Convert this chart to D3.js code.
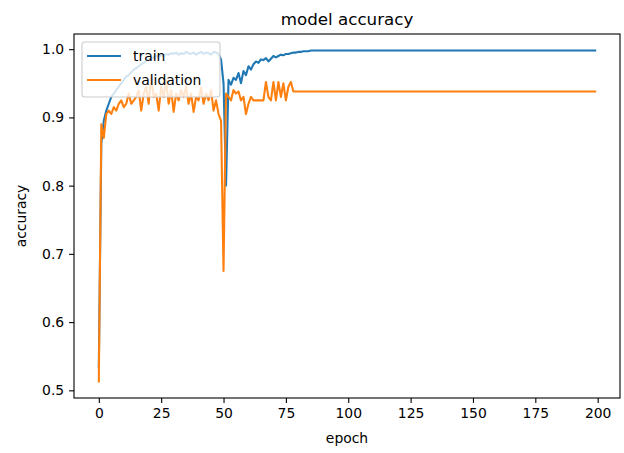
<!DOCTYPE html>
<html>
<head>
<meta charset="utf-8">
<script src="https://cdn.jsdelivr.net/npm/d3@7"></script>
<style>
  body { margin: 0; background: #fff; }
  text { font-family: "DejaVu Sans", sans-serif; fill: #000; }
</style>
</head>
<body>
<div id="chart"></div>
<script>
// Data
const trainAcc = [
  0.534, 0.862, 0.895, 0.910, 0.920, 0.930, 0.935, 0.940, 0.945, 0.950,
  0.955, 0.960, 0.962, 0.966, 0.970, 0.972, 0.975, 0.978, 0.980, 0.983,
  0.985, 0.986, 0.988, 0.990, 0.989, 0.991, 0.990, 0.993, 0.992, 0.994,
  0.993, 0.995, 0.992, 0.994, 0.993, 0.996, 0.994, 0.993, 0.995, 0.992,
  0.994, 0.996, 0.993, 0.995, 0.994, 0.992, 0.996, 0.995, 0.993, 0.985,
  0.950, 0.800, 0.955, 0.948, 0.958, 0.955, 0.965, 0.950, 0.968, 0.962,
  0.975, 0.970, 0.978, 0.982, 0.980, 0.985, 0.984, 0.987, 0.982, 0.986,
  0.990, 0.988, 0.990, 0.992, 0.991, 0.993, 0.993, 0.994, 0.995, 0.995,
  0.996, 0.996, 0.997, 0.997, 0.997, 0.998, 0.998, 0.998, 0.998, 0.998,
  0.998, 0.998, 0.998, 0.998, 0.998, 0.998, 0.998, 0.998, 0.998, 0.998,
  0.998, 0.998, 0.998, 0.998, 0.998, 0.998, 0.998, 0.998, 0.998, 0.998,
  0.998, 0.998, 0.998, 0.998, 0.998, 0.998, 0.998, 0.998, 0.998, 0.998,
  0.998, 0.998, 0.998, 0.998, 0.998, 0.998, 0.998, 0.998, 0.998, 0.998,
  0.998, 0.998, 0.998, 0.998, 0.998, 0.998, 0.998, 0.998, 0.998, 0.998,
  0.998, 0.998, 0.998, 0.998, 0.998, 0.998, 0.998, 0.998, 0.998, 0.998,
  0.998, 0.998, 0.998, 0.998, 0.998, 0.998, 0.998, 0.998, 0.998, 0.998,
  0.998, 0.998, 0.998, 0.998, 0.998, 0.998, 0.998, 0.998, 0.998, 0.998,
  0.998, 0.998, 0.998, 0.998, 0.998, 0.998, 0.998, 0.998, 0.998, 0.998,
  0.998, 0.998, 0.998, 0.998, 0.998, 0.998, 0.998, 0.998, 0.998, 0.998,
  0.998, 0.998, 0.998, 0.998, 0.998, 0.998, 0.998, 0.998, 0.998, 0.998
];

const valAcc = [
  0.513, 0.890, 0.870, 0.905, 0.910, 0.905, 0.915, 0.910, 0.920, 0.925,
  0.915, 0.920, 0.935, 0.920, 0.925, 0.930, 0.940, 0.910, 0.935, 0.945,
  0.920, 0.960, 0.930, 0.935, 0.910, 0.945, 0.930, 0.955, 0.920, 0.940,
  0.908, 0.935, 0.925, 0.940, 0.930, 0.945, 0.920, 0.935, 0.908, 0.930,
  0.925, 0.944, 0.920, 0.935, 0.925, 0.940, 0.910, 0.925, 0.905, 0.895,
  0.675, 0.935, 0.930, 0.925, 0.940, 0.935, 0.938, 0.925, 0.930, 0.905,
  0.920, 0.930, 0.925, 0.925, 0.925, 0.925, 0.925, 0.952, 0.930, 0.925,
  0.952, 0.925, 0.952, 0.930, 0.950, 0.925, 0.945, 0.952, 0.938, 0.938,
  0.938, 0.938, 0.938, 0.938, 0.938, 0.938, 0.938, 0.938, 0.938, 0.938,
  0.938, 0.938, 0.938, 0.938, 0.938, 0.938, 0.938, 0.938, 0.938, 0.938,
  0.938, 0.938, 0.938, 0.938, 0.938, 0.938, 0.938, 0.938, 0.938, 0.938,
  0.938, 0.938, 0.938, 0.938, 0.938, 0.938, 0.938, 0.938, 0.938, 0.938,
  0.938, 0.938, 0.938, 0.938, 0.938, 0.938, 0.938, 0.938, 0.938, 0.938,
  0.938, 0.938, 0.938, 0.938, 0.938, 0.938, 0.938, 0.938, 0.938, 0.938,
  0.938, 0.938, 0.938, 0.938, 0.938, 0.938, 0.938, 0.938, 0.938, 0.938,
  0.938, 0.938, 0.938, 0.938, 0.938, 0.938, 0.938, 0.938, 0.938, 0.938,
  0.938, 0.938, 0.938, 0.938, 0.938, 0.938, 0.938, 0.938, 0.938, 0.938,
  0.938, 0.938, 0.938, 0.938, 0.938, 0.938, 0.938, 0.938, 0.938, 0.938,
  0.938, 0.938, 0.938, 0.938, 0.938, 0.938, 0.938, 0.938, 0.938, 0.938,
  0.938, 0.938, 0.938, 0.938, 0.938, 0.938, 0.938, 0.938, 0.938, 0.938
];

const seriesNames = ["train", "validation"];
const seriesColors = ["#1f77b4", "#ff7f0e"];
const xTicks = [0, 25, 50, 75, 100, 125, 150, 175, 200];
const yTicks = [0.5, 0.6, 0.7, 0.8, 0.9, 1.0];

// Layout
const width = 624;
const height = 453;
const margin = { left: 74, right: 4, top: 34, bottom: 55 };

const svg = d3.select("#chart")
    .append("svg")
    .attr("width", width)
    .attr("height", height);

// Scales (matplotlib-style 5% padding)
const n = trainAcc.length;
const xPad = (n - 1) * 0.05;
const x = d3.scaleLinear()
    .domain([-xPad, n - 1 + xPad])
    .range([margin.left, width - margin.right]);

const yMin = d3.min([...trainAcc, ...valAcc]);
const yMax = d3.max([...trainAcc, ...valAcc]);
const yPad = (yMax - yMin) * 0.05;
const y = d3.scaleLinear()
    .domain([yMin - yPad, yMax + yPad])
    .range([height - margin.bottom, margin.top]);

// Lines
const line = d3.line()
    .x((d, i) => x(i))
    .y(d => y(d));

[trainAcc, valAcc].forEach((series, k) => {
    svg.append("path")
        .datum(series)
        .attr("fill", "none")
        .attr("stroke", seriesColors[k])
        .attr("stroke-width", 2.08)
        .attr("stroke-linejoin", "round")
        .attr("stroke-linecap", "square")
        .attr("d", line);
});

// Axes
const xAxis = svg.append("g")
    .attr("transform", `translate(0,${height - margin.bottom})`)
    .call(d3.axisBottom(x).tickValues(xTicks).tickSize(4.9).tickPadding(4.9).tickFormat(d3.format("d")));

const yAxis = svg.append("g")
    .attr("transform", `translate(${margin.left},0)`)
    .call(d3.axisLeft(y).tickValues(yTicks).tickSize(4.9).tickPadding(4.9).tickFormat(d3.format(".1f")));

[xAxis, yAxis].forEach(g => {
    g.select(".domain").remove();
    g.selectAll(".tick line").attr("stroke", "#000").attr("stroke-width", 1.1);
    g.selectAll(".tick text").style("font-size", "13.9px").attr("fill", "#000");
});

// Frame
svg.append("rect")
    .attr("x", margin.left)
    .attr("y", margin.top)
    .attr("width", width - margin.left - margin.right)
    .attr("height", height - margin.top - margin.bottom)
    .attr("fill", "none")
    .attr("stroke", "#000")
    .attr("stroke-width", 1.1);

// Titles
svg.append("text")
    .attr("x", (margin.left + width - margin.right) / 2)
    .attr("y", 25)
    .attr("text-anchor", "middle")
    .style("font-size", "16.7px")
    .text("model accuracy");

svg.append("text")
    .attr("x", (margin.left + width - margin.right) / 2)
    .attr("y", 443)
    .attr("text-anchor", "middle")
    .style("font-size", "13.9px")
    .text("epoch");

svg.append("text")
    .attr("transform", `translate(26,${(margin.top + height - margin.bottom) / 2}) rotate(-90)`)
    .attr("text-anchor", "middle")
    .style("font-size", "13.9px")
    .text("accuracy");

// Legend
const legend = svg.append("g")
    .attr("transform", `translate(${margin.left + 8},${margin.top + 8})`);

legend.append("rect")
    .attr("width", 138)
    .attr("height", 55)
    .attr("rx", 3)
    .attr("fill", "#fff")
    .attr("fill-opacity", 0.8)
    .attr("stroke", "#ccc")
    .attr("stroke-width", 1.1);

const items = legend.selectAll(".item")
    .data(seriesNames)
    .enter().append("g")
    .attr("class", "item")
    .attr("transform", (d, i) => `translate(0,${14 + i * 24})`);

items.append("line")
    .attr("x1", 5)
    .attr("x2", 39)
    .attr("stroke", (d, i) => seriesColors[i])
    .attr("stroke-width", 2.08);

items.append("text")
    .attr("x", 51)
    .attr("dy", "0.35em")
    .style("font-size", "13.9px")
    .text(d => d);
</script>
</body>
</html>
